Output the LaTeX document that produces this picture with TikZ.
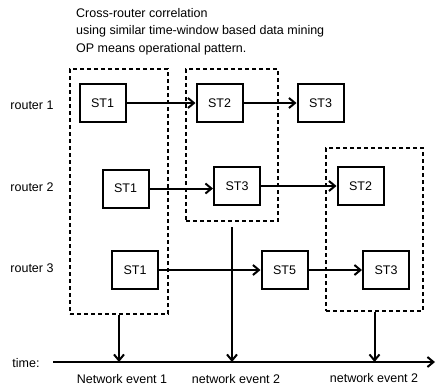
\documentclass[tikz,border=0pt]{standalone}
\usepackage{fontspec}
\setmainfont{Liberation Sans}
\usetikzlibrary{arrows.meta}
\begin{document}
\begin{tikzpicture}[x={(1pt,0)},y={(0,-1pt)},
  every node/.style={font=\fontsize{12.5}{14}\selectfont},
  stbox/.style={draw,line width=2pt,minimum width=46pt,minimum height=38pt,inner sep=0pt},
  dashbox/.style={draw,line width=2pt,dash pattern=on 4pt off 3pt,inner sep=0pt},
  flow/.style={line width=2pt,-{Straight Barb[length=6pt,width=10pt,line width=2pt]}},
  lbl/.style={inner sep=0pt}]
\useasboundingbox (0,0) rectangle (436,391);
% title
\node[lbl,anchor=west] (t1) at (76,13.5) {Cross-router correlation};
\node[lbl,anchor=west] (t2) at (76,31.5) {using similar time-window based data mining};
\node[lbl,anchor=west] (t3) at (76,49) {OP means operational pattern.};
% router labels
\node[lbl] (r1) at (32,105) {router 1};
\node[lbl] (r2) at (32,187) {router 2};
\node[lbl] (r3) at (32,268) {router 3};
% dashed boxes
\node[dashbox,minimum width=98pt,minimum height=245pt] (b1) at (119,191.5) {};
\node[dashbox,minimum width=92pt,minimum height=152pt] (b2) at (232,145) {};
\node[dashbox,minimum width=97pt,minimum height=163pt] (b3) at (374.5,229.5) {};
% router 1
\node[stbox] (a1) at (102.5,103) {ST1};
\node[stbox] (a2) at (219.5,103) {ST2};
\node[stbox] (a3) at (320.5,103) {ST3};
% router 2
\node[stbox] (c1) at (125.5,188.5) {ST1};
\node[stbox] (c2) at (237,186) {ST3};
\node[stbox] (c3) at (360.5,186) {ST2};
% router 3
\node[stbox] (d1) at (135,270) {ST1};
\node[stbox] (d2) at (284.5,270) {ST5};
\node[stbox] (d3) at (386,270) {ST3};
% flows
\draw[flow] (a1.east) -- (a2.west);
\draw[flow] (a2.east) -- (a3.west);
\draw[flow] (c1.east) -- (c2.west |- c1.east);
\draw[flow] (c2.east) -- (c3.west);
\draw[flow] (d1.east) -- (d2.west);
\draw[flow] (d2.east) -- (d3.west);
% timeline
\coordinate (ts) at (53,362);
\coordinate (te) at (435,362);
\draw[flow] (ts) -- (te);
\node[lbl] (tl) at (26,363) {time:};
% event arrows
\draw[flow] (b1.south) -- (b1.south |- ts);
\draw[flow,shorten <=5pt] (b2.south) -- (b2.south |- ts);
\draw[flow] (b3.south) -- (b3.south |- ts);
% event labels
\node[lbl] (e1) at (122,379) {Network event 1};
\node[lbl] (e2) at (236,379) {network event 2};
\node[lbl] (e3) at (374,378) {network event 2};
\end{tikzpicture}
\end{document}
